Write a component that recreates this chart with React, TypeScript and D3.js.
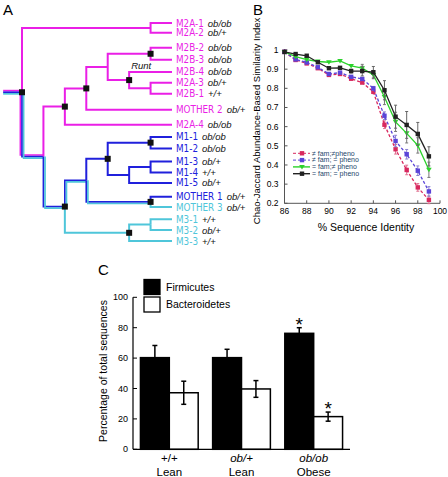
import React from 'react';
import * as d3 from 'd3';

// ---------- Panel A data (dendrogram) ----------
const leafNames = ["M2A-1","M2A-2","M2B-2","M2B-3","M2B-4","M2A-3","M2B-1","MOTHER 2","M2A-4","M1-1","M1-2","M1-3","M1-4","M1-5","MOTHER 1","MOTHER 3","M3-1","M3-2","M3-3"];
const leafGenotypes = ["ob/ob","ob/+","ob/ob","ob/ob","ob/ob","ob/+","+/+","ob/+","ob/ob","ob/ob","ob/ob","ob/+","+/+","ob/+","ob/+","ob/+","+/+","ob/+","+/+"];
const leafLineages = ["M2","M2","M2","M2","M2","M2","M2","M2","M2","M1","M1","M1","M1","M1","M1","M3","M3","M3","M3"];
const leafRows = [0,0.85,2.15,3.2,4.25,5.2,6.15,7.55,8.85,9.9,10.9,12.05,13.0,13.9,15.1,16.0,17.05,18.0,18.95];
const leafParents = ["n2A","n2A","m6a","m6a","m5","m6b","m6b","m3","m2","b6a","b6a","b6b","b6b","b5","b6c","b6c","c6","c6","c5"];

const nodeIds =     ["root","n2A","X","m2","m3","m4","m6a","m5","m6b","b2","b3","b4","b6a","b5","b6b","b6c","c5","c6"];
const nodeParents = ["",    "root","root","X","m2","m3","m4","m4","m5","X","b2","b3","b4","b4","b5","b3","b2","c5"];
const nodeDepths =  [0,6,1,2,3,4,6,5,6,2,3,4,6,5,6,6,5,6];
const nodeSupported=[true,false,false,true,true,false,true,true,false,true,false,true,true,false,false,true,true,false];
const LEAF_DEPTH = 7;

const lineageColors: Record<string,string> = { M2: "#ea1fe6", M1: "#2020dc", M3: "#4fc6da" };
const lineageOrder = ["M2","M1","M3"];

// ---------- Panel B data ----------
const seqIdentity = [86,87,88,89,90,91,92,93,94,95,96,97,98,99];
const diffFamDiffPheno = [0.99,0.948,0.93,0.905,0.87,0.875,0.85,0.83,0.782,0.61,0.482,0.374,0.283,0.218];
const diffFamSamePheno = [0.99,0.951,0.935,0.91,0.875,0.882,0.86,0.849,0.80,0.657,0.525,0.456,0.37,0.262];
const sameFamDiffPheno = [0.99,0.965,0.95,0.94,0.936,0.943,0.917,0.905,0.87,0.755,0.625,0.565,0.502,0.375];
const sameFamSamePheno = [0.99,0.979,0.97,0.936,0.905,0.907,0.89,0.89,0.884,0.79,0.652,0.609,0.562,0.445];
const errDiffDiff = [0,0,0,0,0,0,0,0,0.01,0.02,0.025,0.025,0.02,0.02];
const errDiffSame = [0,0,0,0,0,0,0,0,0.01,0.02,0.03,0.025,0.025,0.025];
const errSameDiff = [0,0,0,0,0,0,0,0.02,0.02,0.04,0.05,0.05,0.04,0.04];
const errSameSame = [0,0,0,0,0,0,0.01,0.025,0.03,0.05,0.06,0.07,0.06,0.05];
const bLegendLabels = ["\u2260 fam;\u2260pheno","\u2260 fam; = pheno","= fam;\u2260 pheno","= fam; = pheno"];
const bXTicks = [86,88,90,92,94,96,98,100];
const bYTicks = [0.2,0.3,0.4,0.5,0.6,0.7,0.8,0.9,1];

// ---------- Panel C data ----------
const genotypes = ["+/+","ob/+","ob/ob"];
const phenotypes = ["Lean","Lean","Obese"];
const phyla = ["Firmicutes","Bacteroidetes"];
const firmicutes = [60.3,60.3,76.3];
const firmicutesErr = [8,5.5,3.7];
const bacteroidetes = [37.2,39.7,21.5];
const bacteroidetesErr = [7.6,5.5,3];
const significant = [false,false,true];
const cYTicks = [0,20,40,60,80,100];

const SANS = "'Liberation Sans', Arial, Helvetica, sans-serif";
const NARROW = "'Liberation Sans Narrow', 'Arial Narrow', 'DejaVu Sans Condensed', sans-serif";

function PanelA() {
  const rows = [
    ...nodeIds.map((id, i) => ({ id, parent: nodeParents[i] || null, depth: nodeDepths[i], sq: nodeSupported[i], leaf: -1 })),
    ...leafNames.map((id, i) => ({ id, parent: leafParents[i], depth: LEAF_DEPTH, sq: false, leaf: i })),
  ];
  const root = d3.stratify<any>().id((d: any) => d.id).parentId((d: any) => d.parent)(rows);
  const xS = d3.scaleLinear().domain([0, LEAF_DEPTH]).range([22, 172]);
  const yS = d3.scaleLinear().domain([0, 18.95]).range([23, 241]);
  const pos = new Map<any, { x: number; y: number }>();
  root.eachAfter((n: any) => {
    const x = xS(n.data.depth);
    let y: number;
    if (n.data.leaf >= 0) y = yS(leafRows[n.data.leaf]);
    else {
      const ys = n.children.map((c: any) => pos.get(c)!.y);
      y = (d3.min(ys)! + d3.max(ys)!) / 2;
    }
    pos.set(n, { x, y });
  });
  const lineagesOf = (n: any) => {
    const s = new Set(n.leaves().map((l: any) => leafLineages[l.data.leaf]));
    return lineageOrder.filter((l) => s.has(l));
  };
  const offsetFor = (lins: string[], l: string) => {
    if (lins.length === 1) return 0;
    if (lins.length === 3) return { M2: -1.6, M1: 0, M3: 1.6 }[l] as number;
    return lins.indexOf(l) * 1.6;
  };
  const edges: any[] = [];
  let k = 0;
  root.descendants().forEach((n: any) => {
    if (!n.parent) return;
    const p = pos.get(n.parent)!;
    const c = pos.get(n)!;
    const lins = lineagesOf(n);
    const w = lins.length > 1 ? 1.7 : 2;
    lins.forEach((l) => {
      const o = offsetFor(lins, l);
      edges.push(
        <path key={k++} d={`M${p.x + o},${p.y}V${c.y + o}H${c.x}`} fill="none" stroke={lineageColors[l]} strokeWidth={w} />
      );
    });
  });
  const r = pos.get(root)!;
  const rootLins = lineagesOf(root);
  rootLins.forEach((l) => {
    const o = offsetFor(rootLins, l);
    edges.push(<path key={k++} d={`M${xS(-0.88)},${r.y + o}H${r.x + o}`} stroke={lineageColors[l]} strokeWidth={1.7} fill="none" />);
  });
  const squares = root.descendants().filter((n: any) => n.data.sq).map((n: any, i: number) => {
    const p = pos.get(n)!;
    return <rect key={i} x={p.x - 3} y={p.y - 3} width={6} height={6} fill="#111" />;
  });
  const leaves = root.leaves().map((n: any) => {
    const i = n.data.leaf;
    const p = pos.get(n)!;
    return (
      <text key={i} x={p.x + 4} y={p.y} dy="0.36em" fontFamily={NARROW} fontSize={9.8}>
        <tspan fill={lineageColors[leafLineages[i]]}>{leafNames[i]}</tspan>
        <tspan dx={4} fill="#111" fontFamily={SANS} fontStyle="italic" fontSize={9.5}>{leafGenotypes[i]}</tspan>
      </text>
    );
  });
  const runtNode = root.find((n: any) => n.data.id === "M2B-4")!;
  const runtPos = pos.get(runtNode)!;
  const runtParent = pos.get(runtNode.parent)!;
  return (
    <g>
      <text x={3} y={15} fontFamily={SANS} fontSize={15}>A</text>
      {edges}
      {squares}
      {leaves}
      <text x={runtParent.x + 2} y={runtPos.y - 2.5} fontFamily={SANS} fontStyle="italic" fontSize={9.5} fill="#111">Runt</text>
    </g>
  );
}

function PanelB() {
  const x = d3.scaleLinear().domain([86, 100]).range([284.5, 440]);
  const y = d3.scaleLinear().domain([0.2, 1]).range([203.3, 50]);
  const series = [
    { vals: diffFamDiffPheno, err: errDiffDiff, color: "#d8285e", dash: "3,2", marker: "sq", errColor: "#e07090" },
    { vals: diffFamSamePheno, err: errDiffSame, color: "#5a44d8", dash: "3,2", marker: "sq", errColor: "#8a80d0" },
    { vals: sameFamDiffPheno, err: errSameDiff, color: "#2bd22b", dash: "", marker: "tri", errColor: "#777" },
    { vals: sameFamSamePheno, err: errSameSame, color: "#222", dash: "", marker: "sq", errColor: "#666" },
  ];
  const line = d3.line<number>().x((_, i) => x(seqIdentity[i])).y((v) => y(v));
  const marker = (m: string, cx: number, cy: number, color: string, key: any) =>
    m === "tri" ? (
      <path key={key} d={`M${cx - 2.8},${cy - 2}L${cx + 2.8},${cy - 2}L${cx},${cy + 2.6}Z`} fill={color} />
    ) : (
      <rect key={key} x={cx - 2.2} y={cy - 2.2} width={4.4} height={4.4} fill={color} />
    );
  return (
    <g>
      <text x={253} y={15} fontFamily={SANS} fontSize={15}>B</text>
      <line x1={x(86)} x2={x(86)} y1={y(0.2)} y2={y(1) - 1} stroke="#555" strokeWidth={1} />
      <line x1={x(86)} x2={x(100)} y1={y(0.2)} y2={y(0.2)} stroke="#555" strokeWidth={1} />
      {bYTicks.map((t) => (
        <g key={t}>
          <line x1={x(86)} x2={x(86) + 3} y1={y(t)} y2={y(t)} stroke="#555" />
          <text x={x(86) - 6} y={y(t)} dy="0.35em" textAnchor="end" fontFamily={SANS} fontSize={8.5}>{t === 1 ? "1" : t.toFixed(1)}</text>
        </g>
      ))}
      {bXTicks.map((t) => (
        <g key={t}>
          <line x1={x(t)} x2={x(t)} y1={y(0.2)} y2={y(0.2) - 3} stroke="#555" />
          <text x={x(t)} y={y(0.2) + 11} textAnchor="middle" fontFamily={SANS} fontSize={8.5}>{t}</text>
        </g>
      ))}
      <text x={366} y={231} textAnchor="middle" fontFamily={SANS} fontSize={10.5}>% Sequence Identity</text>
      <text transform={`translate(260,121) rotate(-90)`} textAnchor="middle" fontFamily={SANS} fontSize={9.5}>Chao-Jaccard Abundance-Based Similarity Index</text>
      {series.map((s, si) => (
        <g key={si}>
          {s.vals.map((v, i) =>
            s.err[i] > 0 ? (
              <g key={i} stroke={s.errColor} strokeWidth={1}>
                <line x1={x(seqIdentity[i])} x2={x(seqIdentity[i])} y1={y(v - s.err[i])} y2={y(v + s.err[i])} />
                <line x1={x(seqIdentity[i]) - 1.5} x2={x(seqIdentity[i]) + 1.5} y1={y(v + s.err[i])} y2={y(v + s.err[i])} />
                <line x1={x(seqIdentity[i]) - 1.5} x2={x(seqIdentity[i]) + 1.5} y1={y(v - s.err[i])} y2={y(v - s.err[i])} />
              </g>
            ) : null
          )}
          <path d={line(s.vals)!} fill="none" stroke={s.color} strokeWidth={1.3} strokeDasharray={s.dash || undefined} />
          {s.vals.map((v, i) => marker(s.marker, x(seqIdentity[i]), y(v), s.color, i))}
        </g>
      ))}
      {series.map((s, i) => {
        const ly = 153.3 + i * 6.8;
        return (
          <g key={i}>
            <line x1={293} x2={310} y1={ly} y2={ly} stroke={s.color} strokeWidth={s.dash ? 1 : 1.4} strokeDasharray={s.dash || undefined} />
            {marker(s.marker, 302, ly, s.color, "m")}
            <text x={312} y={ly} dy="0.34em" fontFamily={SANS} fontSize={7} fill="#24456a">{bLegendLabels[i]}</text>
          </g>
        );
      })}
    </g>
  );
}

function PanelC() {
  const y = d3.scaleLinear().domain([0, 100]).range([449.3, 297.3]);
  const x0 = d3.scaleBand().domain(genotypes).range([133, 350]).paddingInner(0.2).paddingOuter(0.103);
  const x1 = d3.scaleBand().domain(phyla).range([0, x0.bandwidth()]);
  const values = [firmicutes, bacteroidetes];
  const errs = [firmicutesErr, bacteroidetesErr];
  const fills = ["#000", "#fff"];
  return (
    <g>
      <text x={98} y={275} fontFamily={SANS} fontSize={15}>C</text>
      {phyla.map((p, i) => (
        <g key={p}>
          <rect x={144} y={279.5 + i * 17.5} width={16} height={15} fill={fills[i]} stroke="#000" strokeWidth={1.3} />
          <text x={166} y={287 + i * 17.5} dy="0.35em" fontFamily={SANS} fontSize={10.5}>{p}</text>
        </g>
      ))}
      {genotypes.map((g, gi) => (
        <g key={g}>
          {phyla.map((p, pi) => {
            const bx = x0(g)! + x1(p)!;
            const v = values[pi][gi];
            const e = errs[pi][gi];
            const cx = bx + x1.bandwidth() / 2;
            return (
              <g key={p}>
                <rect x={bx} y={y(v)} width={x1.bandwidth()} height={y(0) - y(v)} fill={fills[pi]} stroke="#000" strokeWidth={1.5} />
                <g stroke="#000" strokeWidth={1.5}>
                  <line x1={cx} x2={cx} y1={y(v - e)} y2={y(v + e)} />
                  <line x1={cx - 2.5} x2={cx + 2.5} y1={y(v + e)} y2={y(v + e)} />
                  <line x1={cx - 2.5} x2={cx + 2.5} y1={y(v - e)} y2={y(v - e)} />
                </g>
                {significant[gi] ? (
                  <text x={cx} y={y(v + e) + 3} textAnchor="middle" fontFamily={SANS} fontSize={19}>*</text>
                ) : null}
              </g>
            );
          })}
          <text x={x0(g)! + x0.bandwidth() / 2} y={462} textAnchor="middle" fontFamily={SANS} fontSize={11.5} fontStyle={g === "+/+" ? "normal" : "italic"}>{g}</text>
          <text x={x0(g)! + x0.bandwidth() / 2} y={476} textAnchor="middle" fontFamily={SANS} fontSize={11.5}>{phenotypes[gi]}</text>
        </g>
      ))}
      <line x1={133} x2={133} y1={y(0)} y2={y(100)} stroke="#000" strokeWidth={1.2} />
      <line x1={133} x2={350} y1={y(0)} y2={y(0)} stroke="#000" strokeWidth={1.2} />
      {cYTicks.map((t) => (
        <g key={t}>
          <line x1={133} x2={137} y1={y(t)} y2={y(t)} stroke="#000" />
          <text x={128} y={y(t)} dy="0.35em" textAnchor="end" fontFamily={SANS} fontSize={9}>{t}</text>
        </g>
      ))}
      <text transform="translate(107,371) rotate(-90)" textAnchor="middle" fontFamily={SANS} fontSize={10.5}>Percentage of total sequences</text>
    </g>
  );
}

export default function App() {
  return (
    <svg width={448} height={477} style={{ position: "absolute", left: 0, top: 0, background: "#fff" }}>
      <rect width={448} height={477} fill="#fff" />
      <PanelA />
      <PanelB />
      <PanelC />
    </svg>
  );
}
